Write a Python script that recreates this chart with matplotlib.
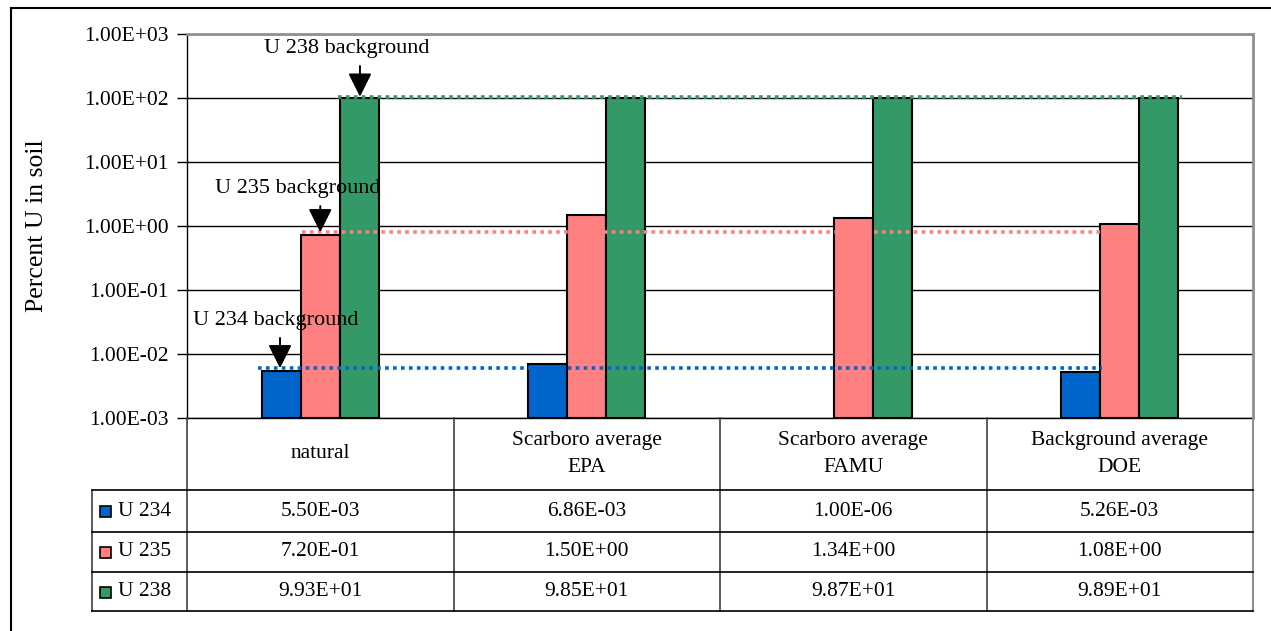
import numpy as np
import matplotlib
matplotlib.use("Agg")
import matplotlib.pyplot as plt
from matplotlib.lines import Line2D
from matplotlib.patches import Rectangle

plt.rcParams["font.family"] = ["Liberation Serif", "DejaVu Serif"]

# Datos
categories = ["natural", "Scarboro average\nEPA", "Scarboro average\nFAMU", "Background average\nDOE"]
series_names = ["U 234", "U 235", "U 238"]
u234 = [5.50e-3, 6.86e-3, 1.00e-6, 5.26e-3]
u235 = [7.20e-1, 1.50e0, 1.34e0, 1.08e0]
u238 = [9.93e1, 9.85e1, 9.87e1, 9.89e1]
colors = ["#0066CC", "#FF8080", "#339966"]

# niveles de fondo (lineas punteadas) y sus extremos en x
bg_levels = [6.0e-3, 0.80, 105.0]
bg_spans = [(-0.234, 2.933), (-0.068, 3.068), (0.067, 3.234)]
bg_labels = ["U 234 background", "U 235 background", "U 238 background"]

W, H = 1271, 631
fig = plt.figure(figsize=(W / 100, H / 100), dpi=100)
fig.patch.set_facecolor("white")

# area del grafico (pixeles)
L, R, T, B = 187, 1253, 34, 418
ax = fig.add_axes([L / W, 1 - B / H, (R - L) / W, (B - T) / H])

ymin, ymax = 1e-3, 1e3
ax.set_yscale("log")
ax.set_ylim(ymin, ymax)
ax.set_xlim(-0.5, len(categories) - 0.5)

width = 0.1463
x = np.arange(len(categories))
for i, (vals, col) in enumerate(zip([u234, u235, u238], colors)):
    vals = np.array(vals)
    ok = vals > ymin
    ax.bar(x[ok] + (i - 1) * width, vals[ok] - ymin, bottom=ymin, width=width,
           color=col, edgecolor="black", linewidth=1.5, zorder=3)

# lineas de fondo
for lvl, (x0, x1), col in zip(bg_levels, bg_spans, colors):
    ax.plot([x0, x1], [lvl, lvl], color=col, linewidth=2.6,
            linestyle=(0, (1, 1.2)), zorder=4, solid_capstyle="butt")

# etiquetas con flechas
ann_x = [-0.151, 0.0, 0.149]
ann_tail = [0.0178, 2.05, 316.0]
txt_pos = [(-0.166, 0.0328), (-0.083, 3.79), (0.10, 583.0)]
for lbl, lvl, xa, tail, (tx, ty) in zip(bg_labels, bg_levels, ann_x, ann_tail, txt_pos):
    ax.annotate("", xy=(xa, lvl), xytext=(xa, tail),
                arrowprops=dict(arrowstyle="-|>,head_width=0.4,head_length=0.8",
                                mutation_scale=18, color="black", lw=1.4,
                                shrinkA=0, shrinkB=0), zorder=6)
    ax.text(tx, ty, lbl, ha="center", va="center", fontsize=16, zorder=6)

ticks = [10.0 ** k for k in range(-3, 4)]
ax.set_yticks(ticks)
ax.set_yticklabels([f"{t:.2E}" for t in ticks], fontsize=15.5)
ax.yaxis.set_minor_locator(matplotlib.ticker.NullLocator())
ax.tick_params(axis="y", length=7, width=1, pad=6)
ax.set_xticks([])
ax.grid(axis="y", color="black", linewidth=1, zorder=0)
ax.set_axisbelow(True)
for s in ["top", "right"]:
    ax.spines[s].set_color("#909090")
    ax.spines[s].set_linewidth(2)
ax.spines["left"].set_linewidth(1)
ax.spines["bottom"].set_linewidth(1)
ax.set_ylabel("Percent U in soil", fontsize=18.5)
ax.yaxis.set_label_coords((48 - L) / (R - L), 0.5)

# tabla de datos (capa en pixeles)
ov = fig.add_axes([0, 0, 1, 1], facecolor="none")
ov.set_xlim(0, W)
ov.set_ylim(H, 0)
ov.axis("off")

# marco exterior
ov.add_line(Line2D([10.5, W], [8, 8], color="black", lw=1.5))
ov.add_line(Line2D([10.5, 10.5], [8, H], color="black", lw=1.5))

col_w = (R - L) / len(categories)
row_y = [490, 532, 572, 611]
lab_left = 92
cols_x = [L + k * col_w for k in range(len(categories) + 1)]

for k, cx in enumerate(cols_x):
    c = "#909090" if k == len(categories) else "#404040"
    ov.add_line(Line2D([cx, cx], [B, row_y[-1]], color=c, lw=1.5 if k == len(categories) else 1.2))
ov.add_line(Line2D([lab_left, lab_left], [row_y[0], row_y[-1]], color="#404040", lw=1.2))
for ry in row_y:
    ov.add_line(Line2D([lab_left, R], [ry, ry], color="black", lw=1.2))

for k, cat in enumerate(categories):
    ov.text(cols_x[k] + col_w / 2, (B + row_y[0]) / 2, cat, ha="center", va="center",
            fontsize=15.5, linespacing=1.5)

for r, (name, vals, col) in enumerate(zip(series_names, [u234, u235, u238], colors)):
    yc = (row_y[r] + row_y[r + 1]) / 2
    ov.add_patch(Rectangle((100, yc - 5), 11, 11, facecolor=col, edgecolor="black", lw=1.2))
    ov.text(118, yc, name, ha="left", va="center", fontsize=15.5)
    for k, v in enumerate(vals):
        ov.text(cols_x[k] + col_w / 2, yc, f"{v:.2E}", ha="center", va="center", fontsize=15.5)

fig.savefig("out.png", dpi=100)
